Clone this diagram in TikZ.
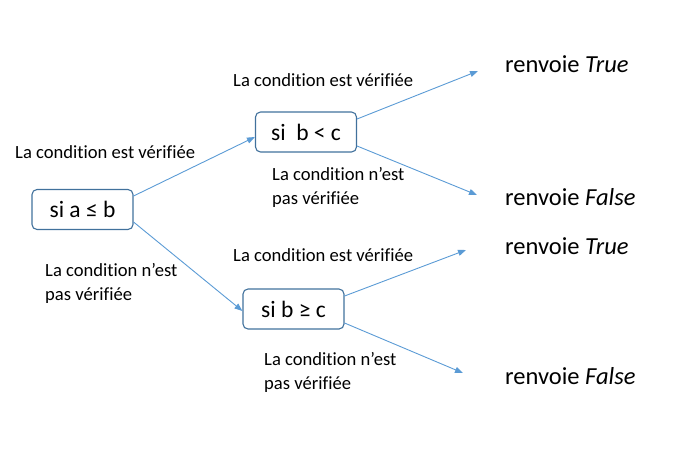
\documentclass[tikz,border=0pt]{standalone}
\usepackage{fontspec}
\setmainfont{Carlito}[Ligatures=NoCommon]
\usetikzlibrary{arrows.meta, positioning}
\definecolor{boxblue}{HTML}{41719C}
\definecolor{arrowblue}{HTML}{5B9BD5}

\begin{document}
\begin{tikzpicture}[x=1pt,y=-1pt]
        \useasboundingbox (0,0) rectangle (676,455);
        \begin{scope}[every edge/.style={draw=arrowblue,line width=0.9pt,-{Triangle[length=8pt,width=6pt]}},
          test node/.style={draw=boxblue,rounded corners=5pt,line width=1.1pt,minimum width=101pt,minimum height=40pt,inner sep=0pt,font=\fontsize{23.5}{26}\selectfont},
          out node/.style={anchor=west,inner sep=0pt,font=\fontsize{24.5}{28}\selectfont},
          lab node/.style={anchor=west,inner sep=0pt,align=left,font=\fontsize{18.6}{24}\selectfont}]
        \node[test node] (1) at (82.5,209.5) {si a ≤ b\ };
        \node[test node] (2) at (306,132) {si\ \ b < c\ };
        \node[test node] (3) at (293.5,309) {si b ≥ c\ };
        \node[out node] (4) at (505,64) {renvoie \textit{True}};
        \node[out node] (5) at (505,197) {renvoie \textit{False}};
        \node[out node] (6) at (505,246) {renvoie \textit{True}};
        \node[out node] (7) at (505,376) {renvoie \textit{False}};
        \coordinate (t1) at (478,71);
        \coordinate (f1) at (477,195);
        \coordinate (t2) at (466,250);
        \coordinate (f2) at (463,373);
        \path
        ([yshift=13.5pt]1.east) edge ([yshift=-5pt]2.west)
        ([yshift=-12.5pt]1.east) edge ([yshift=-2pt]3.west)
        ([yshift=13pt]2.east) edge (t1)
        ([yshift=-14pt]2.east) edge (f1)
        ([yshift=13pt]3.east) edge (t2)
        ([yshift=-14pt]3.east) edge (f2);
        \node[lab node] (l1) at (15,152) {La condition est vérifiée};
        \node[lab node] (l2) at (233,80) {La condition est vérifiée};
        \node[lab node] (l3) at (272,187) {La condition n’est\\pas vérifiée};
        \node[lab node] (l4) at (233,255) {La condition est vérifiée};
        \node[lab node] (l5) at (45,283) {La condition n’est\\pas vérifiée};
        \node[lab node] (l6) at (264,372) {La condition n’est\\pas vérifiée};
        \end{scope}
\end{tikzpicture}
\end{document}
